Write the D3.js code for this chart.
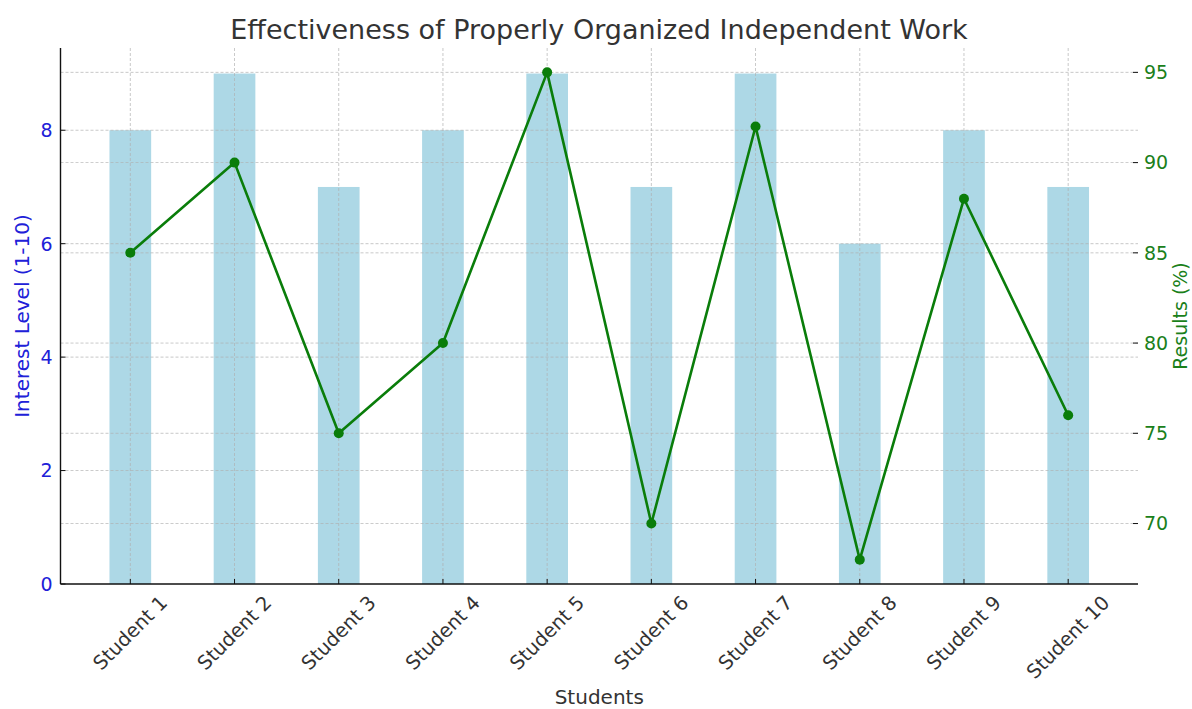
<!DOCTYPE html>
<html><head><meta charset="utf-8">
<script src="https://cdn.jsdelivr.net/npm/d3@7"></script>
<style>body{margin:0;background:#fff}svg{display:block}text{font-family:"DejaVu Sans",sans-serif}</style>
</head><body><svg id="c" width="1192" height="709"></svg>
<script>
const students = ["Student 1","Student 2","Student 3","Student 4","Student 5","Student 6","Student 7","Student 8","Student 9","Student 10"];
const interest = [8,9,7,8,9,7,9,6,8,7];
const results = [85,90,75,80,95,70,92,68,88,76];
const leftTicks = [0,2,4,6,8];
const rightTicks = [70,75,80,85,90,95];

const svg = d3.select("#c");
const L = 60.5, R = 1138, T = 48, B = 584;
const x = d3.scaleLinear().domain([-0.67, students.length - 1 + 0.67]).range([L, R]);
const y1 = d3.scaleLinear().domain([0, 9.45]).range([B, T]);
const y2 = d3.scaleLinear().domain([66.65, 96.35]).range([B, T]);
const bw = x(0.4) - x(0);
const gridStyle = g => g.attr("stroke", "#b0b0b0").attr("stroke-width", 0.8).attr("stroke-dasharray", "3,2").attr("opacity", 0.85);

// bars
svg.append("g").selectAll("rect").data(interest).join("rect")
  .attr("x", (d, i) => x(i) - bw / 2).attr("width", bw)
  .attr("y", d => y1(d)).attr("height", d => B - y1(d))
  .attr("fill", "#add8e6");

// grid
const grid = svg.append("g");
grid.selectAll("line.v").data(students).join("line").attr("class", "v")
  .attr("x1", (d, i) => x(i)).attr("x2", (d, i) => x(i)).attr("y1", T).attr("y2", B).call(gridStyle);
grid.selectAll("line.h1").data(leftTicks.filter(t => t > 0)).join("line").attr("class", "h1")
  .attr("x1", L).attr("x2", R).attr("y1", d => y1(d)).attr("y2", d => y1(d)).call(gridStyle);
grid.selectAll("line.h2").data(rightTicks).join("line").attr("class", "h2")
  .attr("x1", L).attr("x2", R).attr("y1", d => y2(d)).attr("y2", d => y2(d)).call(gridStyle);

// line
const line = d3.line().x((d, i) => x(i)).y(d => y2(d));
svg.append("path").datum(results).attr("d", line).attr("fill", "none")
  .attr("stroke", "#0a7d0a").attr("stroke-width", 2.6).attr("stroke-linejoin", "round");
svg.append("g").selectAll("circle").data(results).join("circle")
  .attr("cx", (d, i) => x(i)).attr("cy", d => y2(d)).attr("r", 5).attr("fill", "#0a7d0a");

// axes
const ax = svg.append("g").attr("fill", "none").attr("stroke", "#111");
ax.append("line").attr("x1", L).attr("x2", L).attr("y1", T).attr("y2", B).attr("stroke-width", 1.4);
ax.append("line").attr("x1", L).attr("x2", R).attr("y1", B).attr("y2", B).attr("stroke-width", 1.4);

// left ticks
const lt = svg.append("g");
leftTicks.forEach(t => {
  lt.append("line").attr("x1", L).attr("x2", L + 5).attr("y1", y1(t)).attr("y2", y1(t)).attr("stroke", "#111").attr("stroke-width", 1);
  lt.append("text").attr("x", L - 8).attr("y", y1(t)).attr("dy", "0.36em").attr("text-anchor", "end")
    .attr("font-size", 19).attr("fill", "#2020d8").text(t);
});
// right ticks
const rt = svg.append("g");
rightTicks.forEach(t => {
  rt.append("line").attr("x1", R - 5).attr("x2", R).attr("y1", y2(t)).attr("y2", y2(t)).attr("stroke", "#111").attr("stroke-width", 1);
  rt.append("text").attr("x", R + 6).attr("y", y2(t)).attr("dy", "0.36em").attr("text-anchor", "start")
    .attr("font-size", 19).attr("fill", "#1a801a").text(t);
});
// bottom ticks
const bt = svg.append("g");
students.forEach((s, i) => {
  bt.append("line").attr("x1", x(i)).attr("x2", x(i)).attr("y1", B).attr("y2", B - 5).attr("stroke", "#111").attr("stroke-width", 1);
  const t = bt.append("text").attr("font-size", 19.5).attr("fill", "#333").attr("text-anchor", "middle")
    .attr("dominant-baseline", "central").text(s);
  const w = t.node().getComputedTextLength();
  const h = 15;
  const boxH = (w + h) * Math.SQRT1_2;
  t.attr("transform", `translate(${x(i)},${B + 10 + boxH / 2}) rotate(-45)`);
});

// labels
svg.append("text").attr("x", 599).attr("y", 39).attr("text-anchor", "middle")
  .attr("font-size", 27).attr("fill", "#333").text("Effectiveness of Properly Organized Independent Work");
svg.append("text").attr("x", (L + R) / 2).attr("y", 704).attr("text-anchor", "middle")
  .attr("font-size", 20).attr("fill", "#333").text("Students");
svg.append("text").attr("transform", `translate(29,${(T + B) / 2}) rotate(-90)`).attr("text-anchor", "middle")
  .attr("font-size", 20).attr("fill", "#2020d8").text("Interest Level (1-10)");
svg.append("text").attr("transform", `translate(1187,${(T + B) / 2}) rotate(-90)`).attr("text-anchor", "middle")
  .attr("font-size", 19).attr("fill", "#1a801a").text("Results (%)");
</script></body></html>
